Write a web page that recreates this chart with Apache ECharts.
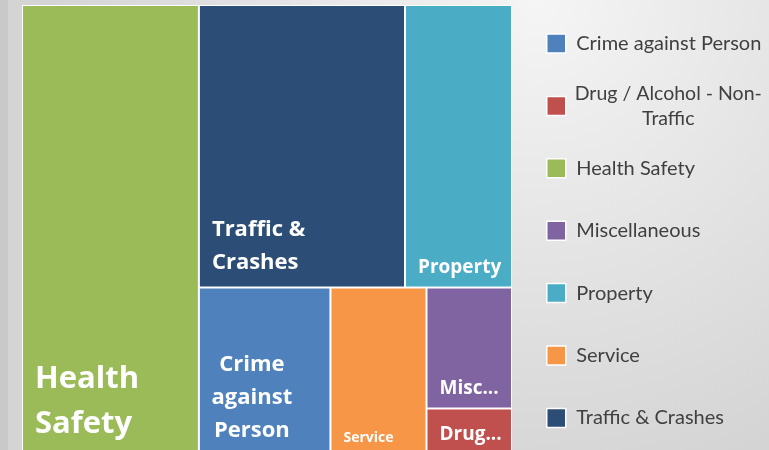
<!DOCTYPE html>
<html>
<head>
<meta charset="utf-8">
<script src="https://cdn.jsdelivr.net/npm/echarts@6/dist/echarts.min.js"></script>
<style>
  html, body { margin: 0; padding: 0; }
  #treemap { width: 769px; height: 450px; }
</style>
</head>
<body>
<div id="treemap"></div>
<script>
// incident categories (legend order) and their counts
var categories = ['Crime against Person', 'Drug / Alcohol - Non-Traffic', 'Health Safety', 'Miscellaneous', 'Property', 'Service', 'Traffic & Crashes'];
var counts = [100, 18, 361, 47, 137, 73, 264];
// text shown inside each tile
var tileLabels = ['Crime\nagainst\nPerson', 'Drug...', 'Health\nSafety', 'Misc...', 'Property', 'Service', 'Traffic &\nCrashes'];

var palette = ['#4F81BD', '#C0504D', '#9BBB59', '#8064A2', '#4BACC6', '#F79646', '#2C4D75'];
var labelFont = {
    'Crime against Person': [22, 33],
    'Drug / Alcohol - Non-Traffic': [19, 24],
    'Health Safety': [31, 45],
    'Miscellaneous': [19, 24],
    'Property': [19, 24],
    'Service': [14, 18],
    'Traffic & Crashes': [22, 33]
};

var chart = echarts.init(document.getElementById('treemap'));

function leaf(name) {
    var i = categories.indexOf(name);
    var f = labelFont[name];
    var item = {
        name: name,
        value: counts[i],
        itemStyle: { color: palette[i], borderColor: '#fff', borderWidth: 1 },
        label: { fontSize: f[0], lineHeight: f[1], formatter: tileLabels[i] }
    };
    if (name === 'Crime against Person') {
        // lines centred on each other, like the original
        item.label.align = 'center';
        item.label.padding = 0;
        item.label.offset = [45, 0];
    }
    return item;
}

function group(children) {
    var total = 0;
    children.forEach(function (c) { total += c.value; });
    return {
        name: '',
        value: total,
        children: children,
        itemStyle: { borderWidth: 0, gapWidth: 0 },
        label: { show: false }
    };
}

// nest the tiles the way the spreadsheet lays its strips out
var tree = [
    leaf('Health Safety'),
    group([leaf('Traffic & Crashes'), leaf('Property')]),
    group([leaf('Crime against Person'), leaf('Service'),
        group([leaf('Miscellaneous'), leaf('Drug / Alcohol - Non-Traffic')])])
];

// empty series so the legend has names to show
var legendSeries = categories.map(function (name, i) {
    return { type: 'pie', name: name, data: [], showEmptyCircle: false, radius: 0, color: palette[i] };
});

var option = {
    backgroundColor: new echarts.graphic.RadialGradient(0.7, 0, 1.1, [
        { offset: 0, color: '#f5f5f5' },
        { offset: 1, color: '#d4d4d4' }
    ]),
    animation: false,
    graphic: [{
        type: 'rect', left: 0, top: 0, silent: true,
        shape: { width: 8, height: 450 },
        style: { fill: '#c9c9c9' }
    }],
    legend: {
        orient: 'vertical',
        left: 546,
        top: 18.5,
        padding: 0,
        itemWidth: 19,
        itemHeight: 19,
        itemGap: 12.4,
        icon: 'path://M0,0H10V10H0Z',
        itemStyle: { borderColor: '#fff', borderWidth: 1.5 },
        selectedMode: false,
        data: categories.map(function (name, i) {
            return { name: name, itemStyle: { color: palette[i] } };
        }),
        formatter: function (name) {
            if (name === 'Drug / Alcohol - Non-Traffic') {
                return '{c|Drug / Alcohol - Non-}\n{c|Traffic}';
            }
            return '{s|' + name + '}';
        },
        textStyle: {
            fontFamily: 'Lato',
            fontSize: 20,
            lineHeight: 25,
            color: '#404040',
            padding: [0, 0, 0, 5.5],
            rich: {
                c: { width: 184, align: 'center', fontFamily: 'Lato', fontSize: 19.5, lineHeight: 25, color: '#404040' },
                s: { fontFamily: 'Lato', fontSize: 20, lineHeight: 50, color: '#404040' }
            }
        }
    },
    series: [{
        type: 'treemap',
        left: 22,
        top: 5,
        width: 490,
        height: 450,
        sort: false,
        squareRatio: 0.5,
        roam: false,
        nodeClick: false,
        breadcrumb: { show: false },
        itemStyle: { borderWidth: 0, gapWidth: 0 },
        label: {
            show: true,
            position: 'insideBottomLeft',
            distance: 7,
            padding: [0, 0, 0, 5],
            color: '#fff',
            fontFamily: 'Open Sans',
            fontWeight: 'bold'
        },
        data: tree
    }].concat(legendSeries)
};

chart.setOption(option);
</script>
</body>
</html>
